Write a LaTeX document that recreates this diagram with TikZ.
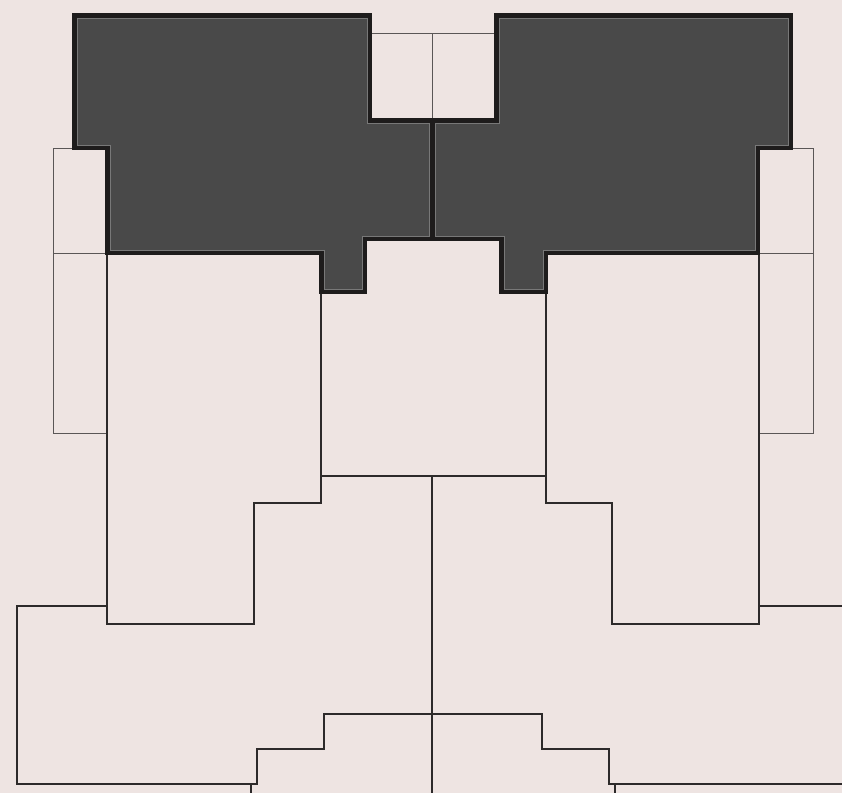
\documentclass[tikz,border=0pt]{standalone}
\definecolor{paper}{RGB}{238,228,226}
\definecolor{roof}{RGB}{73,73,73}
\definecolor{edge}{RGB}{30,28,28}
\definecolor{hl}{RGB}{120,120,120}
\definecolor{wall}{RGB}{45,42,42}
\definecolor{faint}{RGB}{90,86,86}
\tikzset{
  wallline/.style={draw=wall, line width=1.4pt, line join=miter},
  thinline/.style={draw=faint, line width=0.9pt, line join=miter},
}
\begin{document}
\begin{tikzpicture}[x=1pt,y=-1pt]
\fill[paper] (0,0) rectangle (842,793);
\useasboundingbox (0,0) rectangle (842,793);

% thin outlines of lower structures
\draw[thinline] (370,33) -- (496,33);
\draw[thinline] (432,33) -- (432,120);
\draw[thinline] (74,148) -- (53,148) -- (53,433) -- (107,433);
\draw[thinline] (53,253) -- (107,253);
\draw[thinline] (791,148) -- (813,148) -- (813,433) -- (759,433);
\draw[thinline] (759,253) -- (813,253);

% walls
\draw[wallline] (107,253) -- (107,624) -- (254,624) -- (254,503) -- (321,503) -- (321,292);
\draw[wallline] (321,476) -- (546,476);
\draw[wallline] (432,476) -- (432,793);
\draw[wallline] (546,292) -- (546,503) -- (612,503) -- (612,624) -- (759,624) -- (759,253);
\draw[wallline] (107,606) -- (17,606) -- (17,784) -- (257,784) -- (257,749) -- (324,749) -- (324,714)
  -- (542,714) -- (542,749) -- (609,749) -- (609,784) -- (842,784);
\draw[wallline] (759,606) -- (842,606);
\draw[wallline] (251,784) -- (251,793);
\draw[wallline] (615,784) -- (615,793);

% roofs
\def\roofL{(74,15) -- (370,15) -- (370,120) -- (432,120) -- (432,239) -- (365,239) -- (365,292) -- (321,292) -- (321,253) -- (107,253) -- (107,148) -- (74,148) -- cycle}
\def\roofR{(496,15) -- (791,15) -- (791,148) -- (758,148) -- (758,253) -- (546,253) -- (546,292) -- (501,292) -- (501,239) -- (432,239) -- (432,120) -- (496,120) -- cycle}
\foreach \p in {\roofL,\roofR}{
  \fill[roof] \p;
  \begin{scope}
    \clip \p;
    \draw[hl, line width=7pt] \p;
    \draw[edge, line width=5pt] \p;
  \end{scope}
  \draw[edge, line width=3.5pt, line join=miter] \p;
}
\end{tikzpicture}
\end{document}
